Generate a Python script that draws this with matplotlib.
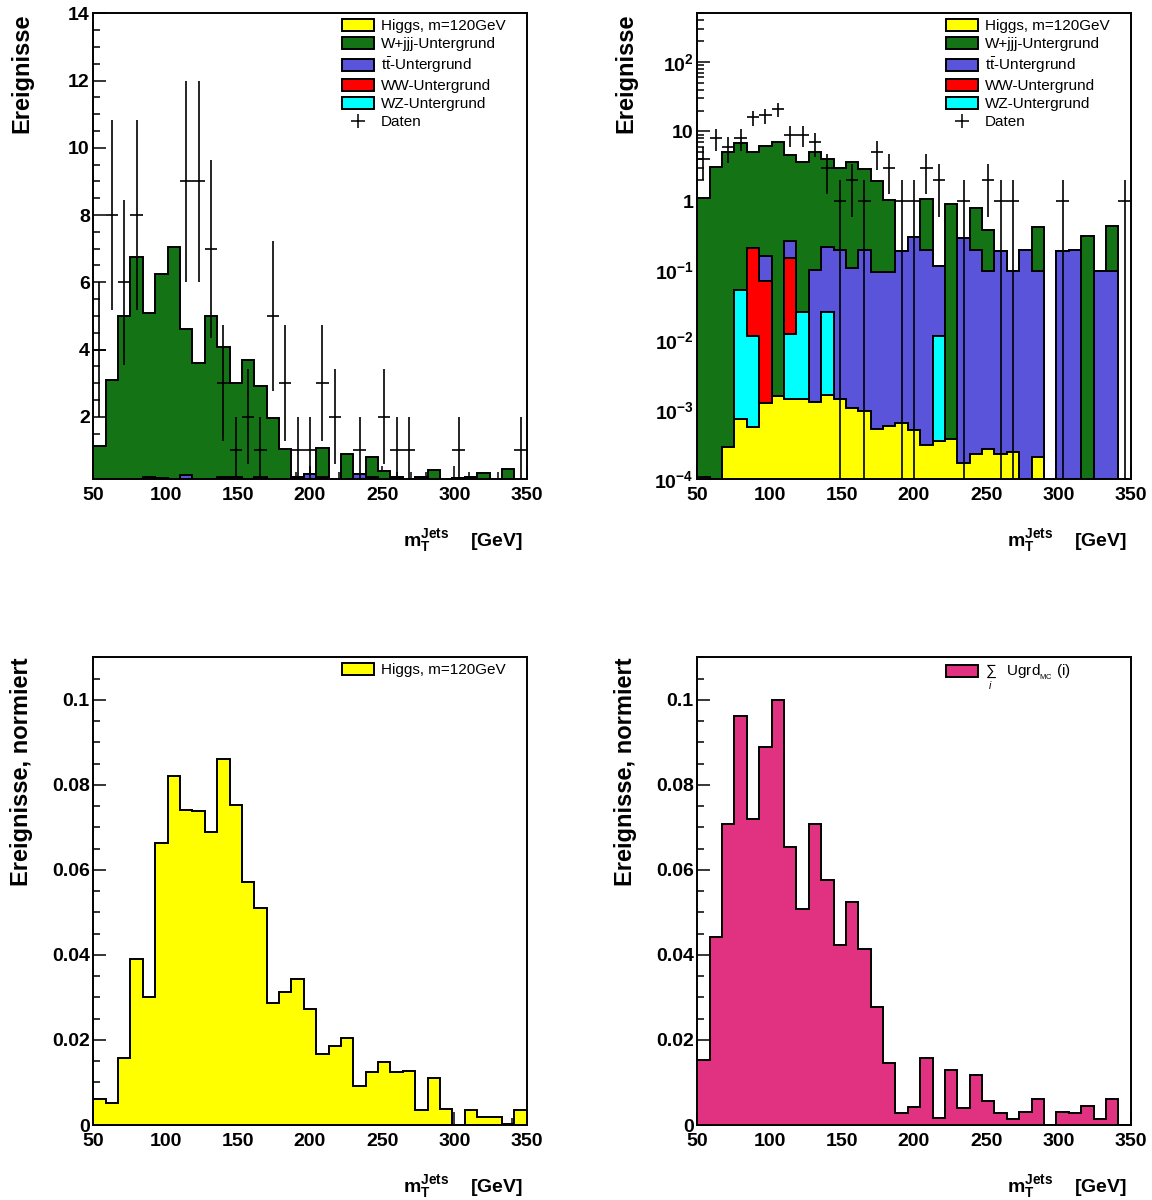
import numpy as np
import matplotlib
matplotlib.use('Agg')
import matplotlib.pyplot as plt
from matplotlib.patches import Patch
from matplotlib.lines import Line2D
from matplotlib.ticker import MultipleLocator, LogLocator, NullFormatter, FuncFormatter

plt.rcParams['font.family'] = ['Liberation Sans', 'DejaVu Sans']
plt.rcParams['mathtext.fontset'] = 'custom'
plt.rcParams['mathtext.rm'] = 'Liberation Sans'
plt.rcParams['mathtext.it'] = 'Liberation Sans:italic'
plt.rcParams['mathtext.bf'] = 'Liberation Sans:bold'

# ---------------- data ----------------
bin_edges = np.linspace(50, 350, 36)

higgs = [1.09e-4, 0.9e-4, 2.94e-4, 7.36e-4, 5.71e-4, 1.27e-3, 1.55e-3, 1.41e-3, 1.41e-3,
         1.30e-3, 1.65e-3, 1.41e-3, 1.07e-3, 0.97e-3, 5.36e-4, 5.92e-4, 6.5e-4, 5.1e-4,
         3.1e-4, 3.5e-4, 3.8e-4, 1.73e-4, 2.3e-4, 2.7e-4, 2.3e-4, 2.44e-4, 0.65e-4,
         2.07e-4, 0.69e-4, 0.0, 0.65e-4, 0.33e-4, 0.33e-4, 0.05e-4, 0.65e-4]
wz = [0, 0, 0, 0.0511, 0.0111, 0, 0, 0.0108, 0.0236, 0, 0.0234, 0, 0, 0, 0, 0, 0, 0,
      0, 0.0110, 0, 0, 0, 0, 0, 0, 0, 0, 0, 0, 0, 0, 0, 0, 0]
ww = [0, 0, 0, 0, 0.203, 0.0686, 0, 0.139, 0, 0, 0, 0, 0, 0, 0, 0, 0, 0,
      0, 0, 0, 0, 0, 0, 0, 0, 0, 0, 0, 0, 0, 0, 0, 0, 0]
ttbar = [0, 0, 0, 0, 0, 0.095, 0, 0.112, 0, 0.101, 0.190, 0.198, 0.108, 0.198, 0.0965,
         0.0964, 0.193, 0.2995, 0.1987, 0.1057, 0, 0.293, 0.199, 0.097, 0.194, 0.097,
         0.20, 0.099, 0, 0.19, 0.199, 0, 0.099, 0.10, 0]
wjjj = [1.12, 3.10, 5.00, 6.70, 4.885, 6.085, 7.05, 4.337, 3.575, 4.90, 3.865, 2.80, 3.59,
        2.71, 1.87, 0.94, 0, 0, 0.88, 0, 0.90, 0, 0.60, 0.29, 0, 0, 0, 0.32, 0, 0, 0,
        0.316, 0, 0.334, 0]
data = [4, 8, 6, 8, 16, 17, 21, 9, 9, 7, 3, 1, 2, 1, 5, 3, 1, 1, 3, 2, 0, 1, 0, 2, 1, 1,
        0, 0, 0, 1, 0, 0, 0, 0, 1]

higgs_norm = [0.0060, 0.0051, 0.0157, 0.0391, 0.0301, 0.0664, 0.0822, 0.0742, 0.0739,
              0.0688, 0.0861, 0.0753, 0.0572, 0.0510, 0.0288, 0.0312, 0.0343, 0.0272,
              0.0167, 0.0186, 0.0204, 0.0092, 0.0125, 0.0147, 0.0125, 0.0127, 0.0035,
              0.0110, 0.0037, 0.0, 0.0035, 0.0018, 0.0018, 0.0003, 0.0035]
bkg_norm = [0.0154, 0.0442, 0.0707, 0.0961, 0.0719, 0.0888, 0.0999, 0.0654, 0.0508,
            0.0708, 0.0576, 0.0424, 0.0524, 0.0413, 0.0278, 0.0146, 0.0029, 0.0043,
            0.0157, 0.0016, 0.0130, 0.0041, 0.0118, 0.0056, 0.0029, 0.0014, 0.0030,
            0.0060, 0.0, 0.0031, 0.0029, 0.0044, 0.0014, 0.0060, 0.0]

stack_labels = ['Higgs, m=120GeV', 'W+jjj-Untergrund', r'$\mathrm{t\bar{t}}$-Untergrund',
                'WW-Untergrund', 'WZ-Untergrund']
stack_colors = {'higgs': '#ffff00', 'wjjj': '#147314', 'tt': '#5954d9',
                'ww': '#ff0000', 'wz': '#00ffff'}
bkg_color = '#e13282'

# ---------------- figure ----------------
W, H = 1152, 1200
fig = plt.figure(figsize=(W / 100, H / 100), dpi=100)
fig.patch.set_facecolor('white')

def rect(x0, y0, x1, y1):
    return [x0 / W, 1 - y1 / H, (x1 - x0) / W, (y1 - y0) / H]

ax_tl = fig.add_axes(rect(93.3, 13.3, 526.7, 479.3))
ax_tr = fig.add_axes(rect(697.3, 13.3, 1130.7, 479.3))
ax_bl = fig.add_axes(rect(93.3, 657.3, 526.7, 1125))
ax_br = fig.add_axes(rect(697.3, 657.3, 1130.7, 1125))

LW = 1.4
centers = 0.5 * (bin_edges[:-1] + bin_edges[1:])
halfw = 0.5 * np.diff(bin_edges)
xlab = r'$\mathbf{m}_{\mathbf{T}}^{\mathbf{Jets}}$    [GeV]'
LEG_KW = dict(loc='upper left', bbox_to_anchor=(0.573, 0.988), frameon=False, fontsize=11,
              handlelength=2.13, handleheight=0.83, handletextpad=0.45, labelspacing=0.25,
              borderpad=0, borderaxespad=0)


def style_axes(ax, ylabel):
    ax.set_xlim(50, 350)
    ax.xaxis.set_major_locator(MultipleLocator(50))
    ax.xaxis.set_minor_locator(MultipleLocator(10))
    ax.tick_params(which='both', direction='in', top=False, right=False,
                   labelsize=14, width=1.1)
    ax.tick_params(which='major', length=9.5)
    ax.tick_params(which='minor', length=5)
    ax.tick_params(axis='x', pad=5.5)
    ax.tick_params(axis='y', pad=2.5)
    for lab in ax.get_xticklabels() + ax.get_yticklabels():
        lab.set_fontweight('bold')
    for s in ax.spines.values():
        s.set_linewidth(LW)
    ax.set_xlabel(xlab, loc='right', fontsize=14, fontweight='bold')
    ax.xaxis.set_label_coords(0.992, -0.102)
    ax.set_ylabel(ylabel, loc='top', fontsize=17, fontweight='bold')
    ax.yaxis.set_label_coords(-0.139, 1.0)


def draw_stack(ax, floor):
    layers = [np.array(higgs), np.array(wz), np.array(ww), np.array(ttbar), np.array(wjjj)]
    cols = [stack_colors['higgs'], stack_colors['wz'], stack_colors['ww'],
            stack_colors['tt'], stack_colors['wjjj']]
    cum = np.cumsum(np.vstack(layers), axis=0)
    for i in reversed(range(len(layers))):
        vals = np.maximum(cum[i], floor)
        ax.stairs(vals, bin_edges, baseline=floor, fill=True, facecolor=cols[i],
                  edgecolor='none', zorder=2)
        ax.stairs(vals, bin_edges, baseline=floor, fill=False, edgecolor='black',
                  linewidth=LW, zorder=2)


def stack_legend(ax):
    handles = [Patch(facecolor=stack_colors['higgs'], edgecolor='black', linewidth=LW, label=stack_labels[0]),
               Patch(facecolor=stack_colors['wjjj'], edgecolor='black', linewidth=LW, label=stack_labels[1]),
               Patch(facecolor=stack_colors['tt'], edgecolor='black', linewidth=LW, label=stack_labels[2]),
               Patch(facecolor=stack_colors['ww'], edgecolor='black', linewidth=LW, label=stack_labels[3]),
               Patch(facecolor=stack_colors['wz'], edgecolor='black', linewidth=LW, label=stack_labels[4]),
               Line2D([], [], color='black', marker='+', linestyle='none', markersize=10,
                      markeredgewidth=1.1, label='Daten')]
    ax.legend(handles=handles, **LEG_KW)


d = np.array(data, dtype=float)

# ---- top-left: linear stack ----
ax = ax_tl
draw_stack(ax, 0.0)
ax.set_ylim(0.14, 14)
m = (d > 0) & (d <= 14)
ax.errorbar(centers[m], d[m], xerr=halfw[m], yerr=np.sqrt(d[m]), fmt='none',
            ecolor='black', elinewidth=1.2, capsize=0, zorder=5)
ax.yaxis.set_major_locator(MultipleLocator(2))
ax.yaxis.set_minor_locator(MultipleLocator(0.5))
ax.yaxis.set_major_formatter(FuncFormatter(lambda v, p: f'{v:.0f}'))
style_axes(ax, 'Ereignisse')
stack_legend(ax)

# ---- top-right: log stack ----
ax = ax_tr
ax.set_yscale('log')
floor = 1e-7
draw_stack(ax, floor)
ax.set_ylim(1e-4, 500)
m = d > 0
lo = np.maximum(d[m] - np.sqrt(d[m]), 1e-9)
ax.errorbar(centers[m], d[m], xerr=halfw[m], yerr=[d[m] - lo, np.sqrt(d[m])], fmt='none',
            ecolor='black', elinewidth=1.2, capsize=0, zorder=5)
ax.yaxis.set_major_locator(LogLocator(base=10, numticks=20))
ax.yaxis.set_minor_locator(LogLocator(base=10, subs=np.arange(2, 10), numticks=100))
ax.yaxis.set_minor_formatter(NullFormatter())


def logfmt(v, p):
    e = int(round(np.log10(v)))
    if e == 0:
        return '1'
    if e == 1:
        return '10'
    return r'$\mathbf{10^{%d}}$' % e


ax.yaxis.set_major_formatter(FuncFormatter(logfmt))
style_axes(ax, 'Ereignisse')
stack_legend(ax)

# ---- bottom-left: normalised Higgs ----
ax = ax_bl
ax.stairs(higgs_norm, bin_edges, baseline=0, fill=True, facecolor=stack_colors['higgs'],
          edgecolor='none', zorder=2)
ax.stairs(higgs_norm, bin_edges, baseline=0, fill=False, edgecolor='black', linewidth=LW, zorder=2)
ax.set_ylim(0, 0.11)
ax.yaxis.set_major_locator(MultipleLocator(0.02))
ax.yaxis.set_minor_locator(MultipleLocator(0.005))
ax.yaxis.set_major_formatter(FuncFormatter(lambda v, p: '0' if abs(v) < 1e-9 else f'{v:g}'))
style_axes(ax, 'Ereignisse, normiert')
ax.legend(handles=[Patch(facecolor=stack_colors['higgs'], edgecolor='black', linewidth=LW,
                         label='Higgs, m=120GeV')], **LEG_KW)

# ---- bottom-right: normalised background sum ----
ax = ax_br
ax.stairs(bkg_norm, bin_edges, baseline=0, fill=True, facecolor=bkg_color,
          edgecolor='none', zorder=2)
ax.stairs(bkg_norm, bin_edges, baseline=0, fill=False, edgecolor='black', linewidth=LW, zorder=2)
ax.set_ylim(0, 0.11)
ax.yaxis.set_major_locator(MultipleLocator(0.02))
ax.yaxis.set_minor_locator(MultipleLocator(0.005))
ax.yaxis.set_major_formatter(FuncFormatter(lambda v, p: '0' if abs(v) < 1e-9 else f'{v:g}'))
style_axes(ax, 'Ereignisse, normiert')
ax.legend(handles=[Patch(facecolor=bkg_color, edgecolor='black', linewidth=LW,
                         label=r'$\sum_{i}$   Ugrd$_{_{\mathrm{MC}}}$ (i)')], **LEG_KW)

fig.savefig('out.png', dpi=100, facecolor='white')
